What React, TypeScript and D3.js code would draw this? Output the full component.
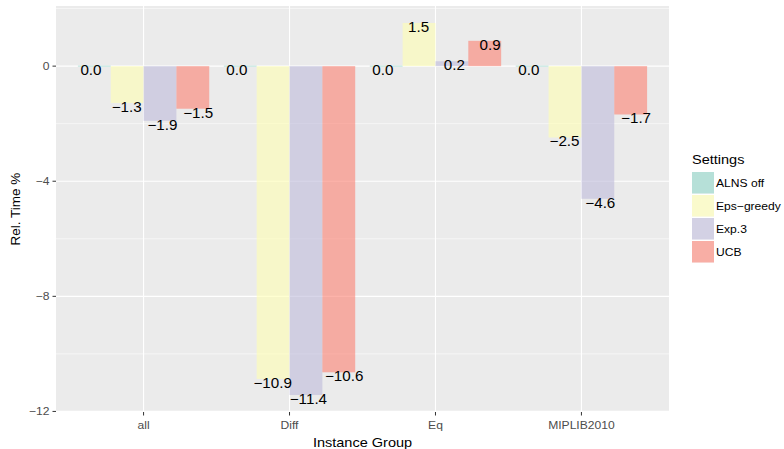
import React from "react";
import * as d3 from "d3";

const groups = ["all", "Diff", "Eq", "MIPLIB2010"];
const settings = ["ALNS off", "Eps\u2212greedy", "Exp.3", "UCB"];
const colors = ["#8DD3C7", "#FFFFB3", "#BEBADA", "#FB8072"];
const alnsOff = [0, 0, 0, 0];
const epsGreedy = [-1.28, -10.87, 1.5, -2.48];
const exp3 = [-1.9, -11.43, 0.17, -4.61];
const ucb = [-1.48, -10.64, 0.88, -1.68];
const series = [alnsOff, epsGreedy, exp3, ucb];
const majorTicks = [0, -4, -8, -12];
const minorTicks = [2, -2, -6, -10];

const W = 784, H = 449;
const PL = 56, PR = 669, PT = 6, PB = 412;
const SX = 1.1;
const FONT = "'Liberation Sans', Arial, Helvetica, sans-serif";

const fmt = (v: number) => {
  const s = v.toFixed(1);
  return s.startsWith("-") ? "\u2212" + s.slice(1) : s;
};

function T(props: { x: number; y: number; children: any; anchor?: string; size: number; fill?: string }) {
  const { x, y, children, anchor = "middle", size, fill = "#000" } = props;
  return (
    <text
      transform={`translate(${x},${y}) scale(${SX},1)`}
      textAnchor={anchor as any}
      fontSize={size}
      fill={fill}
      fontFamily={FONT}
    >
      {children}
    </text>
  );
}

export default function App() {
  const x = d3.scaleBand<string>().domain(groups).range([PL, PR]).paddingInner(0).paddingOuter(0.1);
  const bw = x.bandwidth();
  const xs = d3.scaleBand<string>().domain(settings).range([bw * 0.05, bw * 0.95]);
  const y = d3.scaleLinear().domain([-12.02, 2.09]).range([PB, PT]);
  const labelStep = bw * 0.245;

  return (
    <svg width={W} height={H} style={{ display: "block", position: "absolute", left: 0, top: 0 }}>
      <rect x={0} y={0} width={W} height={H} fill="#fff" />
      <rect x={PL} y={PT} width={PR - PL} height={PB - PT} fill="#EBEBEB" />
      {minorTicks.map((t) => (
        <line key={"mi" + t} x1={PL} x2={PR} y1={y(t)} y2={y(t)} stroke="#fff" strokeWidth={0.55} />
      ))}
      {majorTicks.map((t) => (
        <line key={"ma" + t} x1={PL} x2={PR} y1={y(t)} y2={y(t)} stroke="#fff" strokeWidth={1.1} />
      ))}
      {groups.map((g) => (
        <line key={"vg" + g} x1={x(g)! + bw / 2} x2={x(g)! + bw / 2} y1={PT} y2={PB} stroke="#fff" strokeWidth={1.1} />
      ))}
      {/* bars */}
      {groups.map((g, gi) =>
        settings.map((s, si) => {
          const v = series[si][gi];
          const y0 = y(0), y1 = y(v);
          const top = Math.min(y0, y1);
          const h = Math.max(Math.abs(y1 - y0), 1);
          return (
            <rect
              key={g + s}
              x={x(g)! + xs(s)!}
              y={v === 0 ? y0 - 0.5 : top}
              width={xs.bandwidth()}
              height={h}
              fill={colors[si]}
              fillOpacity={0.6}
            />
          );
        })
      )}
      {/* labels */}
      {groups.map((g, gi) =>
        settings.map((s, si) => {
          const v = series[si][gi];
          const cx = x(g)! + bw / 2 + (si - 1.5) * labelStep + 1;
          return (
            <T key={"l" + g + s} x={cx} y={y(v) + 9} size={13.8}>
              {fmt(v)}
            </T>
          );
        })
      )}
      {/* y axis */}
      {majorTicks.map((t) => (
        <g key={"yt" + t}>
          <line x1={PL - 3.5} x2={PL} y1={y(t)} y2={y(t)} stroke="#333" strokeWidth={1} />
          <T x={PL - 6.5} y={y(t) + 4} anchor="end" size={11} fill="#4D4D4D">
            {fmt(t).replace(".0", "")}
          </T>
        </g>
      ))}
      {/* x axis */}
      {groups.map((g) => (
        <g key={"xt" + g}>
          <line x1={x(g)! + bw / 2} x2={x(g)! + bw / 2} y1={PB} y2={PB + 3.5} stroke="#333" strokeWidth={1} />
          <T x={x(g)! + bw / 2} y={428.5} size={11} fill="#4D4D4D">
            {g}
          </T>
        </g>
      ))}
      <T x={(PL + PR) / 2} y={446.5} size={13.2}>
        Instance Group
      </T>
      <text
        transform={`translate(20,${(PT + PB) / 2}) rotate(-90)`}
        textAnchor="middle"
        fontSize={13.5}
        fontFamily={FONT}
        fill="#000"
      >
        Rel. Time %
      </text>
      {/* legend */}
      <T x={692} y={164} anchor="start" size={13.2}>
        Settings
      </T>
      {settings.map((s, i) => (
        <g key={"lg" + s}>
          <rect x={692} y={172 + i * 23} width={22} height={21.5} fill="#F2F2F2" />
          <rect x={692} y={172 + i * 23} width={22} height={21.5} fill={colors[i]} fillOpacity={0.6} />
          <T x={716} y={172 + i * 23 + 14.5} anchor="start" size={11}>
            {s}
          </T>
        </g>
      ))}
    </svg>
  );
}
